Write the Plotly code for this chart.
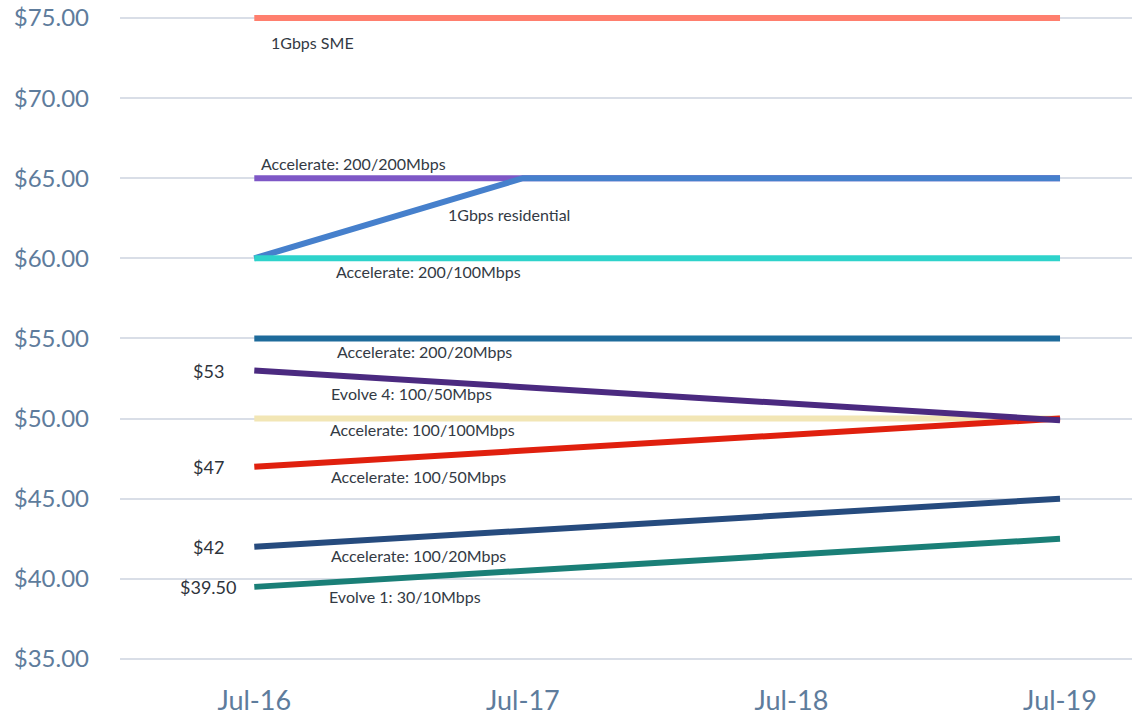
import plotly.graph_objects as go

months = ["Jul-16", "Jul-17", "Jul-18", "Jul-19"]

names = [
    "1Gbps SME",
    "Accelerate: 200/200Mbps",
    "1Gbps residential",
    "Accelerate: 200/100Mbps",
    "Accelerate: 200/20Mbps",
    "Accelerate: 100/100Mbps",
    "Accelerate: 100/50Mbps",
    "Evolve 4: 100/50Mbps",
    "Accelerate: 100/20Mbps",
    "Evolve 1: 30/10Mbps",
]

sme_1g = [75, 75, 75, 75]
acc_200_200 = [65, 65, 65, 65]
res_1g = [60, 65, 65, 65]
acc_200_100 = [60, 60, 60, 60]
acc_200_20 = [55, 55, 55, 55]
acc_100_100 = [50, 50, 50, 50]
acc_100_50 = [47, 48, 49, 50]
evolve_4 = [53, 51.97, 50.93, 49.9]
acc_100_20 = [42, 43, 44, 45]
evolve_1 = [39.5, 40.5, 41.5, 42.5]

series = [sme_1g, acc_200_200, res_1g, acc_200_100, acc_200_20,
          acc_100_100, acc_100_50, evolve_4, acc_100_20, evolve_1]

colors = ["#FF7F6E", "#7E57C6", "#4680CC", "#2ED3CB", "#1E6B9B",
          "#F2E6B5", "#E0200E", "#4B2A80", "#264B7E", "#1A7F77"]

# start-point value labels
start_labels = {"Evolve 4: 100/50Mbps": "$53", "Accelerate: 100/50Mbps": "$47",
                "Accelerate: 100/20Mbps": "$42", "Evolve 1: 30/10Mbps": "$39.50"}

fig = go.Figure()
for name, vals, col in zip(names, series, colors):
    fig.add_trace(go.Scatter(x=months, y=vals, mode="lines", name=name,
                             line=dict(color=col, width=6), showlegend=False))

# series name label placement: (x in category-index units, y offset from first value)
name_pos = {
    "1Gbps SME": (0.216, -1.5),
    "Accelerate: 200/200Mbps": (0.368, 0.95),
    "1Gbps residential": (0.948, 2.71),
    "Accelerate: 200/100Mbps": (0.647, -0.79),
    "Accelerate: 200/20Mbps": (0.632, -0.84),
    "Evolve 4: 100/50Mbps": (0.584, -1.46),
    "Accelerate: 100/100Mbps": (0.628, -0.71),
    "Accelerate: 100/50Mbps": (0.613, -0.64),
    "Accelerate: 100/20Mbps": (0.613, -0.57),
    "Evolve 1: 30/10Mbps": (0.561, -0.63),
}

for name, vals in zip(names, series):
    xo, dy = name_pos[name]
    fig.add_annotation(x=xo, y=vals[0] + dy, xref="x", yref="y", text=name,
                       showarrow=False, font=dict(size=16, color="#333a44",
                                                  family="Lato"))
    if name in start_labels:
        fig.add_annotation(x=0, y=vals[0], xref="x", yref="y",
                           text=start_labels[name], showarrow=False,
                           xanchor="center", xshift=-46,
                           font=dict(size=18, color="#2e333b", family="Lato"))

fig.update_layout(
    width=1132, height=715,
    margin=dict(l=120, r=0, t=0, b=40),
    plot_bgcolor="white", paper_bgcolor="white",
    font=dict(family="Lato"),
    xaxis=dict(type="category", range=[-0.5, 3.268], showgrid=False,
               showline=False, zeroline=False, automargin=False,
               tickfont=dict(size=27, color="#5E7C9C", family="Lato"),
               ticks="outside", ticklen=2, tickcolor="rgba(0,0,0,0)"),
    yaxis=dict(range=[34.0, 76.123], tickvals=[35, 40, 45, 50, 55, 60, 65, 70, 75],
               ticktext=["$35.00", "$40.00", "$45.00", "$50.00", "$55.00",
                         "$60.00", "$65.00", "$70.00", "$75.00"],
               showgrid=True, gridcolor="#D9DEE7", gridwidth=2,
               zeroline=False, showline=False, automargin=False,
               tickfont=dict(size=24, color="#5E7C9C", family="Lato"),
               ticklabelstandoff=30),
)

fig.write_html("out.html")
